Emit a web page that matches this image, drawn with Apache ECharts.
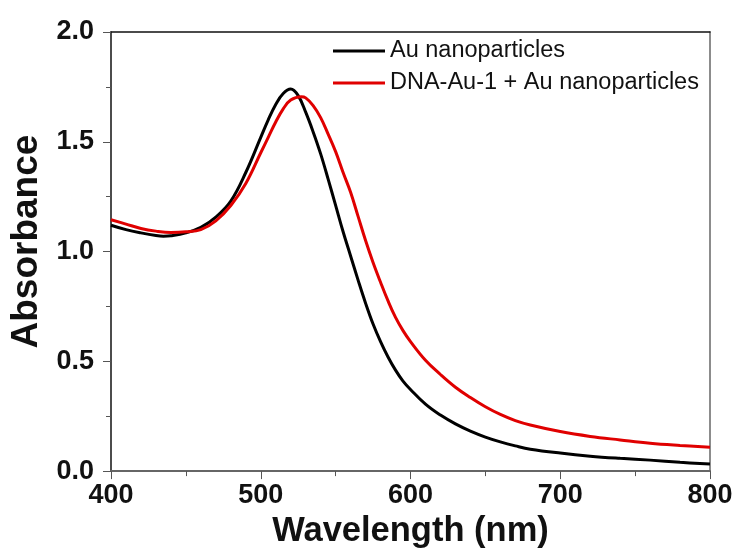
<!DOCTYPE html>
<html>
<head>
<meta charset="utf-8">
<script src="https://cdn.jsdelivr.net/npm/echarts@6/dist/echarts.min.js"></script>
<style>html,body{margin:0;padding:0;background:#fff;}#c{width:738px;height:554px;}</style>
</head>
<body>
<div id="c"></div>
<script>
var seriesNames = ['Au nanoparticles', 'DNA-Au-1 + Au nanoparticles'];
var xTicks = [400, 500, 600, 700, 800];
var yTicks = [0.0, 0.5, 1.0, 1.5, 2.0];

var auWavelength = [400,410,420,430,435,440,450,460,470,480,490,500,505,510,515,520,525,530,535,540,545,550,555,560,565,570,575,580,585,590,595,600,610,620,630,640,650,660,670,680,700,720,740,760,780,800];
var auAbs = [1.12,1.10,1.085,1.073,1.07,1.072,1.085,1.11,1.157,1.23,1.36,1.52,1.60,1.67,1.72,1.74,1.71,1.635,1.545,1.445,1.33,1.21,1.09,0.98,0.87,0.765,0.67,0.59,0.52,0.46,0.41,0.372,0.305,0.255,0.215,0.182,0.155,0.133,0.115,0.10,0.082,0.068,0.058,0.05,0.04,0.032];

var dnaWavelength = [400,410,420,430,440,450,460,470,480,490,500,505,510,515,520,527,530,535,540,545,550,555,560,565,570,575,580,585,590,595,600,610,620,630,640,650,660,670,680,700,720,740,760,780,800];
var dnaAbs = [1.145,1.125,1.105,1.093,1.087,1.09,1.10,1.14,1.21,1.31,1.45,1.52,1.59,1.65,1.69,1.705,1.70,1.665,1.61,1.535,1.455,1.36,1.27,1.16,1.05,0.95,0.86,0.775,0.70,0.64,0.59,0.505,0.44,0.382,0.335,0.293,0.258,0.23,0.21,0.18,0.158,0.142,0.127,0.117,0.109];

function pairs(xs, ys){ return xs.map(function(x,i){ return [x, ys[i]]; }); }

var font = "'Liberation Sans', Arial, sans-serif";
var chart = echarts.init(document.getElementById('c'), null, {renderer:'canvas'});
chart.setOption({
  animation: false,
  backgroundColor: '#fff',
  grid: {left:110, right:28, top:32, bottom:81, containLabel:false},
  legend: {
    orient: 'vertical', left: 328, top: 34,
    itemWidth: 52, itemHeight: 3, itemGap: 8,
    icon: 'rect',
    textStyle: {fontFamily: font, fontSize: 23.5, color: '#111'},
    data: seriesNames
  },
  xAxis: [{
    type: 'value', min: xTicks[0], max: xTicks[xTicks.length-1], interval: 100,
    name: 'Wavelength (nm)', nameLocation: 'middle', nameGap: 39,
    nameTextStyle: {fontFamily: font, fontSize: 34.5, fontWeight: 'bold', color: '#111'},
    axisLine: {show: true, onZero: false, lineStyle: {color: '#666', width: 2}},
    axisTick: {show: true, inside: false, length: 8, lineStyle: {color: '#555'}},
    minorTick: {show: true, splitNumber: 2, length: 5, lineStyle: {color: '#555'}},
    splitLine: {show: false},
    axisLabel: {fontFamily: font, fontSize: 27, fontWeight: 'bold', color: '#111', margin: 11}
  }, {
    type: 'value', position: 'top', min: 400, max: 800,
    axisLine: {show: true, onZero: false, lineStyle: {color: '#111', width: 1.5}},
    axisTick: {show: false}, axisLabel: {show: false}, splitLine: {show: false}
  }],
  yAxis: [{
    type: 'value', min: yTicks[0], max: yTicks[yTicks.length-1], interval: 0.5,
    name: 'Absorbance', nameLocation: 'middle', nameGap: 66, nameRotate: 90,
    nameTextStyle: {fontFamily: font, fontSize: 37, fontWeight: 'bold', color: '#111', padding: [0, 0, 0, 20]},
    axisLine: {show: true, onZero: false, lineStyle: {color: '#111', width: 1.5}},
    axisTick: {show: true, inside: false, length: 8, lineStyle: {color: '#555'}},
    minorTick: {show: true, splitNumber: 2, length: 5, lineStyle: {color: '#555'}},
    splitLine: {show: false},
    axisLabel: {fontFamily: font, fontSize: 27, fontWeight: 'bold', color: '#111', margin: 17,
      formatter: function(v){ return v.toFixed(1); }}
  }, {
    type: 'value', position: 'right', min: 0, max: 2,
    axisLine: {show: true, onZero: false, lineStyle: {color: '#666', width: 1.5}},
    axisTick: {show: false}, axisLabel: {show: false}, splitLine: {show: false}
  }],
  series: [{
    name: seriesNames[0], type: 'line', data: pairs(auWavelength, auAbs),
    smooth: 0.4, showSymbol: false, symbol: 'none',
    lineStyle: {color: '#000', width: 3}, itemStyle: {color: '#000'}
  }, {
    name: seriesNames[1], type: 'line', data: pairs(dnaWavelength, dnaAbs),
    smooth: 0.4, showSymbol: false, symbol: 'none',
    lineStyle: {color: '#e00000', width: 3}, itemStyle: {color: '#e00000'}
  }]
});
</script>
</body>
</html>
